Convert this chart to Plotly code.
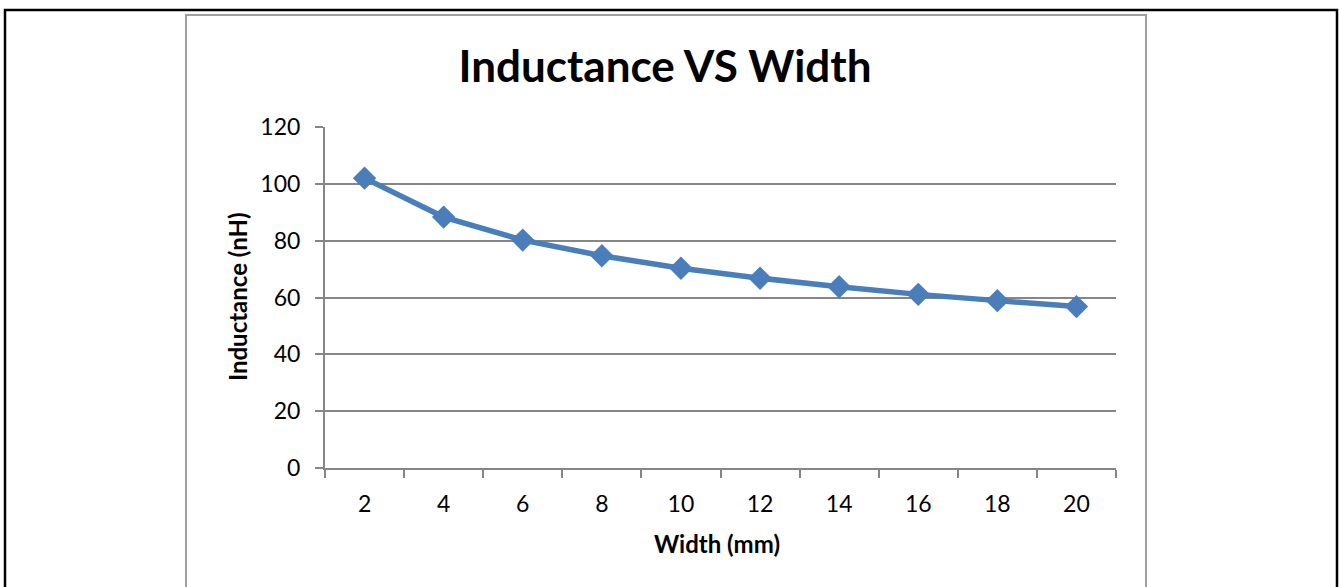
import plotly.graph_objects as go

W, H = 1339, 587
width_mm = [2, 4, 6, 8, 10, 12, 14, 16, 18, 20]
inductance_nH = [102.0, 88.3, 80.2, 74.7, 70.3, 66.8, 63.8, 61.1, 58.9, 56.8]
y_ticks = [0, 20, 40, 60, 80, 100, 120]
boundary_ticks = [1, 3, 5, 7, 9, 11, 13, 15, 17, 19, 21]

def px(x):
    return x / W

def py(y):
    return 1 - y / H

FONT = "Lato"
GRID = "#868686"
BLUE = "#4A7EBB"

fig = go.Figure()
fig.add_trace(go.Scatter(
    x=width_mm, y=inductance_nH, mode="lines+markers",
    line=dict(color=BLUE, width=5.5),
    marker=dict(symbol="diamond", size=18, color=BLUE),
    showlegend=False, hoverinfo="x+y",
))
fig.add_trace(go.Scatter(x=[1, 21], y=[0, 0], xaxis="x2", mode="markers",
                         marker=dict(opacity=0), showlegend=False, hoverinfo="skip"))

xdom = [px(325), px(1116)]
ydom = [py(468), py(127)]

fig.update_layout(
    width=W, height=H, autosize=False,
    margin=dict(l=0, r=0, t=0, b=0, pad=0, autoexpand=False),
    paper_bgcolor="white", plot_bgcolor="white",
    font=dict(family=FONT, color="black"),
    xaxis=dict(domain=xdom, range=[1, 21], tickvals=width_mm, automargin=False,
               ticktext=[str(v) for v in width_mm], ticks="", showgrid=False,
               zeroline=False, showline=False, tickfont=dict(size=23, family=FONT),
               ticklabelstandoff=20, anchor="y", fixedrange=True),
    xaxis2=dict(domain=xdom, range=[1, 21], tickvals=boundary_ticks, ticks="outside",
                ticklen=8, tickwidth=2, tickcolor=GRID, showticklabels=False,
                showgrid=False, zeroline=False, showline=True, linecolor=GRID,
                linewidth=2, overlaying="x", anchor="y", side="bottom", fixedrange=True,
                automargin=False),
    yaxis=dict(domain=ydom, range=[0, 120], tickvals=y_ticks, ticks="outside",
               ticklen=8, tickwidth=2, tickcolor=GRID, showgrid=True, gridcolor=GRID,
               gridwidth=2, zeroline=False, showline=True, linecolor=GRID, linewidth=2,
               tickfont=dict(size=23, family=FONT), ticklabelstandoff=10, fixedrange=True,
               automargin=False),
    title=dict(text="<b>Inductance VS Width</b>", x=px(665), y=py(67),
               xanchor="center", yanchor="middle", xref="paper", yref="paper",
               automargin=False,
               font=dict(size=44, family=FONT, color="black")),
    annotations=[
        dict(text="<b>Width (mm)</b>", x=px(717), y=py(543), xref="paper", yref="paper",
             showarrow=False, xanchor="center", yanchor="middle",
             font=dict(size=24, family=FONT)),
        dict(text="<b>Inductance (nH)</b>", x=px(238), y=py(297), xref="paper", yref="paper",
             showarrow=False, xanchor="center", yanchor="middle", textangle=-90,
             font=dict(size=24, family=FONT)),
    ],
    shapes=[
        dict(type="rect", xref="paper", yref="paper", x0=px(5), x1=px(1337),
             y0=py(640), y1=py(10), line=dict(color="black", width=2.5), layer="below"),
        dict(type="rect", xref="paper", yref="paper", x0=px(186), x1=px(1146),
             y0=py(640), y1=py(15), line=dict(color="#A0A0A0", width=2), layer="below"),
    ],
)

fig.write_html("out.html")
